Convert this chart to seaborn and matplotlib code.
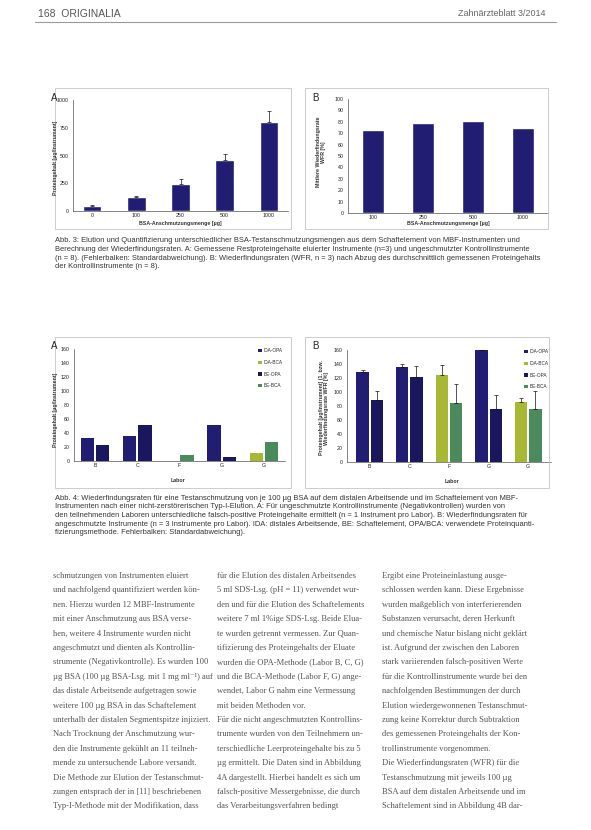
import numpy as np
import pandas as pd
import matplotlib
matplotlib.use("Agg")
import matplotlib.pyplot as plt
import seaborn as sns
from matplotlib.patches import Patch, Rectangle
from matplotlib.lines import Line2D

# ---------------- data ----------------
fig3a_menge = ["0", "100", "250", "500", "1000"]
fig3a_protein = [45, 125, 245, 460, 800]
fig3a_sd = [6, 8, 40, 50, 100]
fig3a_yticks = [0, 250, 500, 750, 1000]

fig3b_menge = ["100", "250", "500", "1000"]
fig3b_wfr = [72.5, 79, 80.5, 74.5]
fig3b_yticks = [0, 10, 20, 30, 40, 50, 60, 70, 80, 90, 100]

fig4_gruppen = ["B", "C", "F", "G-OPA", "G-BCA"]
fig4_labor_ticks = ["B", "C", "F", "G", "G"]
fig4_methode = ["OPA", "OPA", "BCA", "OPA", "BCA"]
fig4_orte = ["IDA", "BE"]
fig4a_ida = [33, 36, 0, 52, 12]
fig4a_be = [23, 51, 8, 6, 27]
fig4b_ida = [129, 135, 124, 160, 85]
fig4b_be = [89, 122, 84, 76, 76]
fig4b_ida_sd = [3, 5, 15, 0, 7]
fig4b_be_sd = [13, 15, 28, 20, 26]
fig4_yticks = [0, 20, 40, 60, 80, 100, 120, 140, 160]
fig4_legend = ["IDA-OPA", "IDA-BCA", "BE-OPA", "BE-BCA"]

header_left = "168  ORIGINALIA"
header_right = "Zahnärzteblatt 3/2014"

caption3 = [
    "Abb. 3: Elution und Quantifizierung unterschiedlicher BSA-Testanschmutzungsmengen aus dem Schaftelement von MBF-Instrumenten und",
    "Berechnung der Wiederfindungsraten. A: Gemessene Restproteingehalte eluierter Instrumente (n=3) und ungeschmutzter Kontrollinstrumente",
    "(n = 8). (Fehlerbalken: Standardabweichung). B: Wiederfindungsraten (WFR, n = 3) nach Abzug des durchschnittlich gemessenen Proteingehalts",
    "der Kontrollinstrumente (n = 8).",
]
caption4 = [
    "Abb. 4: Wiederfindungsraten für eine Testanschmutzung von je 100 µg BSA auf dem distalen Arbeitsende und im Schaftelement von MBF-",
    "Instrumenten nach einer nicht-zerstörerischen Typ-I-Elution. A: Für ungeschmutzte Kontrollinstrumente (Negativkontrollen) wurden von",
    "den teilnehmenden Laboren unterschiedliche falsch-positive Proteingehalte ermittelt (n = 1 Instrument pro Labor). B: Wiederfindungsraten für",
    "angeschmutzte Instrumente (n = 3 Instrumente pro Labor). IDA: distales Arbeitsende, BE: Schaftelement, OPA/BCA: verwendete Proteinquanti-",
    "fizierungsmethode. Fehlerbalken: Standardabweichung).",
]
col1 = [
    "schmutzungen von Instrumenten eluiert",
    "und nachfolgend quantifiziert werden kön-",
    "nen. Hierzu wurden 12 MBF-Instrumente",
    "mit einer Anschmutzung aus BSA verse-",
    "hen, weitere 4 Instrumente wurden nicht",
    "angeschmutzt und dienten als Kontrollin-",
    "strumente (Negativkontrolle). Es wurden 100",
    "µg BSA (100 µg BSA-Lsg. mit 1 mg ml⁻¹) auf",
    "das distale Arbeitsende aufgetragen sowie",
    "weitere 100 µg BSA in das Schaftelement",
    "unterhalb der distalen Segmentspitze injiziert.",
    "Nach Trocknung der Anschmutzung wur-",
    "den die Instrumente gekühlt an 11 teilneh-",
    "mende zu untersuchende Labore versandt.",
    "Die Methode zur Elution der Testanschmut-",
    "zungen entsprach der in [11] beschriebenen",
    "Typ-I-Methode mit der Modifikation, dass",
]
col2 = [
    "für die Elution des distalen Arbeitsendes",
    "5 ml SDS-Lsg. (pH = 11) verwendet wur-",
    "den und für die Elution des Schaftelements",
    "weitere 7 ml 1%ige SDS-Lsg. Beide Elua-",
    "te wurden getrennt vermessen. Zur Quan-",
    "tifizierung des Proteingehalts der Eluate",
    "wurden die OPA-Methode (Labor B, C, G)",
    "und die BCA-Methode (Labor F, G) ange-",
    "wendet, Labor G nahm eine Vermessung",
    "mit beiden Methoden vor.",
    "Für die nicht angeschmutzten Kontrollins-",
    "trumente wurden von den Teilnehmern un-",
    "terschiedliche Leerproteingehalte bis zu 5",
    "µg ermittelt. Die Daten sind in Abbildung",
    "4A dargestellt. Hierbei handelt es sich um",
    "falsch-positive Messergebnisse, die durch",
    "das Verarbeitungsverfahren bedingt",
]
col3 = [
    "Ergibt eine Proteineinlastung ausge-",
    "schlossen werden kann. Diese Ergebnisse",
    "wurden maßgeblich von interferierenden",
    "Substanzen verursacht, deren Herkunft",
    "und chemische Natur bislang nicht geklärt",
    "ist. Aufgrund der zwischen den Laboren",
    "stark variierenden falsch-positiven Werte",
    "für die Kontrollinstrumente wurde bei den",
    "nachfolgenden Bestimmungen der durch",
    "Elution wiedergewonnenen Testanschmut-",
    "zung keine Korrektur durch Subtraktion",
    "des gemessenen Proteingehalts der Kon-",
    "trollinstrumente vorgenommen.",
    "Die Wiederfindungsraten (WFR) für die",
    "Testanschmutzung mit jeweils 100 µg",
    "BSA auf dem distalen Arbeitsende und im",
    "Schaftelement sind in Abbildung 4B dar-",
]

# ---------------- style ----------------
sns.set_style("white")
plt.rcParams["font.family"] = ["Liberation Sans", "DejaVu Sans"]

W, H = 591, 830
fig = plt.figure(figsize=(W / 100, H / 100), dpi=100)
fig.patch.set_facecolor("white")

NAVY = "#211d72"
NAVY2 = "#1b175e"
YEL = "#a9b833"
GRN = "#4a8a5d"
pal4 = {"IDA-OPA": NAVY, "IDA-BCA": YEL, "BE-OPA": NAVY2, "BE-BCA": GRN}


def fx(x):
    return x / W


def fy(y):
    return 1 - y / H


def add_ax(l, t, r, b):
    return fig.add_axes([fx(l), fy(b), (r - l) / W, (b - t) / H])


def frame(l, t, r, b, color="#c4c4c4", lw=0.6):
    fig.add_artist(Rectangle((fx(l), fy(b)), (r - l) / W, (b - t) / H,
                             transform=fig.transFigure, fill=False,
                             ec=color, lw=lw))


def style_ax(ax, yticks):
    ax.set_facecolor("none")
    for s in ["top", "right"]:
        ax.spines[s].set_visible(False)
    for s in ["left", "bottom"]:
        ax.spines[s].set_color("#555555")
        ax.spines[s].set_linewidth(0.5)
    ax.set_yticks(yticks)
    ax.set_ylim(yticks[0], yticks[-1])
    ax.tick_params(axis="both", labelsize=3.8, length=1.5, width=0.4,
                   pad=1.5, colors="#222222")
    ax.tick_params(axis="x", length=0)
    ax.set_xlabel("")
    ax.set_ylabel("")


def add_err(ax, container, sd):
    xs = [b.get_x() + b.get_width() / 2 for b in container]
    ys = [b.get_height() for b in container]
    ax.errorbar(xs, ys, yerr=[np.zeros(len(sd)), sd], fmt="none",
                ecolor="#111111", elinewidth=0.5, capsize=1.3,
                capthick=0.5, zorder=5)


# ---------------- header ----------------
fig.text(fx(38), fy(14), header_left, fontsize=7.5, color="#555555",
         va="center", ha="left")
fig.text(fx(546), fy(14), header_right, fontsize=6.5, color="#666666",
         va="center", ha="right")
fig.add_artist(Line2D([fx(35), fx(556)], [fy(22), fy(22)],
                      transform=fig.transFigure, color="#9a9a9a", lw=0.8))

# ---------------- Figure 3 ----------------
frame(55, 88, 291, 229)
frame(305, 88, 548, 229)

ax3a = add_ax(73, 100, 288, 211)
sns.barplot(x=fig3a_menge, y=fig3a_protein, color=NAVY, width=0.42,
            saturation=1, errorbar=None, ax=ax3a)
style_ax(ax3a, fig3a_yticks)
add_err(ax3a, ax3a.containers[0], fig3a_sd)
fig.text(fx(51), fy(98), "A", fontsize=7, color="#222222", va="center")
fig.text(fx(55), fy(158), "Proteingehalt [µg/Instrument]", fontsize=3.8,
         rotation=90, ha="center", va="center", fontweight="bold",
         color="#333333")
fig.text(fx(180), fy(223), "BSA-Anschmutzungsmenge [µg]", fontsize=3.8,
         ha="center", va="center", fontweight="bold", color="#333333")

ax3b = add_ax(348, 99, 548, 213)
sns.barplot(x=fig3b_menge, y=fig3b_wfr, color=NAVY, width=0.45,
            saturation=1, errorbar=None, ax=ax3b)
style_ax(ax3b, fig3b_yticks)
fig.text(fx(312), fy(98), "B", fontsize=7, color="#222222", va="center")
fig.text(fx(321), fy(152), "Mittlere Wiederfindungsrate\nWFR [%]",
         fontsize=3.8, rotation=90, ha="center", va="center",
         fontweight="bold", color="#333333", linespacing=1.1)
fig.text(fx(448), fy(224), "BSA-Anschmutzungsmenge [µg]", fontsize=3.8,
         ha="center", va="center", fontweight="bold", color="#333333")

for i, line in enumerate(caption3):
    fig.text(fx(55), fy(241 + 8.6 * i), line, fontsize=5.4,
             color="#333333", va="center", ha="left")

# ---------------- Figure 4 ----------------
frame(55, 337, 291, 488)
frame(305, 337, 549, 488)


def fig4_panel(ax, ida, be, ida_sd=None, be_sd=None):
    df = pd.DataFrame({
        "Gruppe": fig4_gruppen * 2,
        "Ort": [fig4_orte[0]] * len(fig4_gruppen) + [fig4_orte[1]] * len(fig4_gruppen),
        "Wert": list(ida) + list(be),
    })
    sns.barplot(data=df, x="Gruppe", y="Wert", hue="Ort",
                hue_order=fig4_orte, order=fig4_gruppen, dodge=True,
                width=0.72, gap=0.12, saturation=1, errorbar=None,
                legend=False, ax=ax)
    for ort, cont in zip(fig4_orte, ax.containers):
        for bar, meth in zip(cont, fig4_methode):
            bar.set_facecolor(pal4[f"{ort}-{meth}"])
            bar.set_edgecolor("none")
    if ida_sd is not None:
        add_err(ax, ax.containers[0], ida_sd)
        add_err(ax, ax.containers[1], be_sd)
    style_ax(ax, fig4_yticks)
    ax.set_xticks(range(len(fig4_gruppen)))
    ax.set_xticklabels(fig4_labor_ticks)
    handles = [Patch(facecolor=pal4[k], edgecolor="none") for k in fig4_legend]
    ax.legend(handles, fig4_legend, loc="upper right", frameon=False,
              fontsize=3.4, handlelength=0.7, handleheight=0.7,
              handletextpad=0.3, labelspacing=1.4,
              bbox_to_anchor=(1.0, 1.03), borderaxespad=0.2)


ax4a = add_ax(74, 349, 285, 461)
fig4_panel(ax4a, fig4a_ida, fig4a_be)
fig.text(fx(51), fy(346), "A", fontsize=7, color="#222222", va="center")
fig.text(fx(56), fy(410), "Proteingehalt [µg/Instrument]", fontsize=3.8,
         rotation=90, ha="center", va="center", fontweight="bold",
         color="#333333")
fig.text(fx(178), fy(480), "Labor", fontsize=3.8, ha="center", va="center",
         fontweight="bold", color="#333333")

ax4b = add_ax(347, 350, 551, 462)
fig4_panel(ax4b, fig4b_ida, fig4b_be, fig4b_ida_sd, fig4b_be_sd)
fig.text(fx(312), fy(346), "B", fontsize=7, color="#222222", va="center")
fig.text(fx(324), fy(408),
         "Proteingehalt [µg/Instrument] (1. bzw.\nWiederfindungsrate WFR [%]",
         fontsize=3.8, rotation=90, ha="center", va="center",
         fontweight="bold", color="#333333", linespacing=1.1)
fig.text(fx(452), fy(481), "Labor", fontsize=3.8, ha="center", va="center",
         fontweight="bold", color="#333333")

for i, line in enumerate(caption4):
    fig.text(fx(55), fy(498 + 8.7 * i), line, fontsize=5.4,
             color="#333333", va="center", ha="left")

# ---------------- body text ----------------
for x0, col in [(53, col1), (217, col2), (382, col3)]:
    for i, line in enumerate(col):
        fig.text(fx(x0), fy(576 + 14.4 * i), line, fontsize=6.1,
                 family=["Liberation Serif", "DejaVu Serif"],
                 color="#555555", va="center", ha="left")

fig.savefig("out.png", dpi=100, facecolor="white")
